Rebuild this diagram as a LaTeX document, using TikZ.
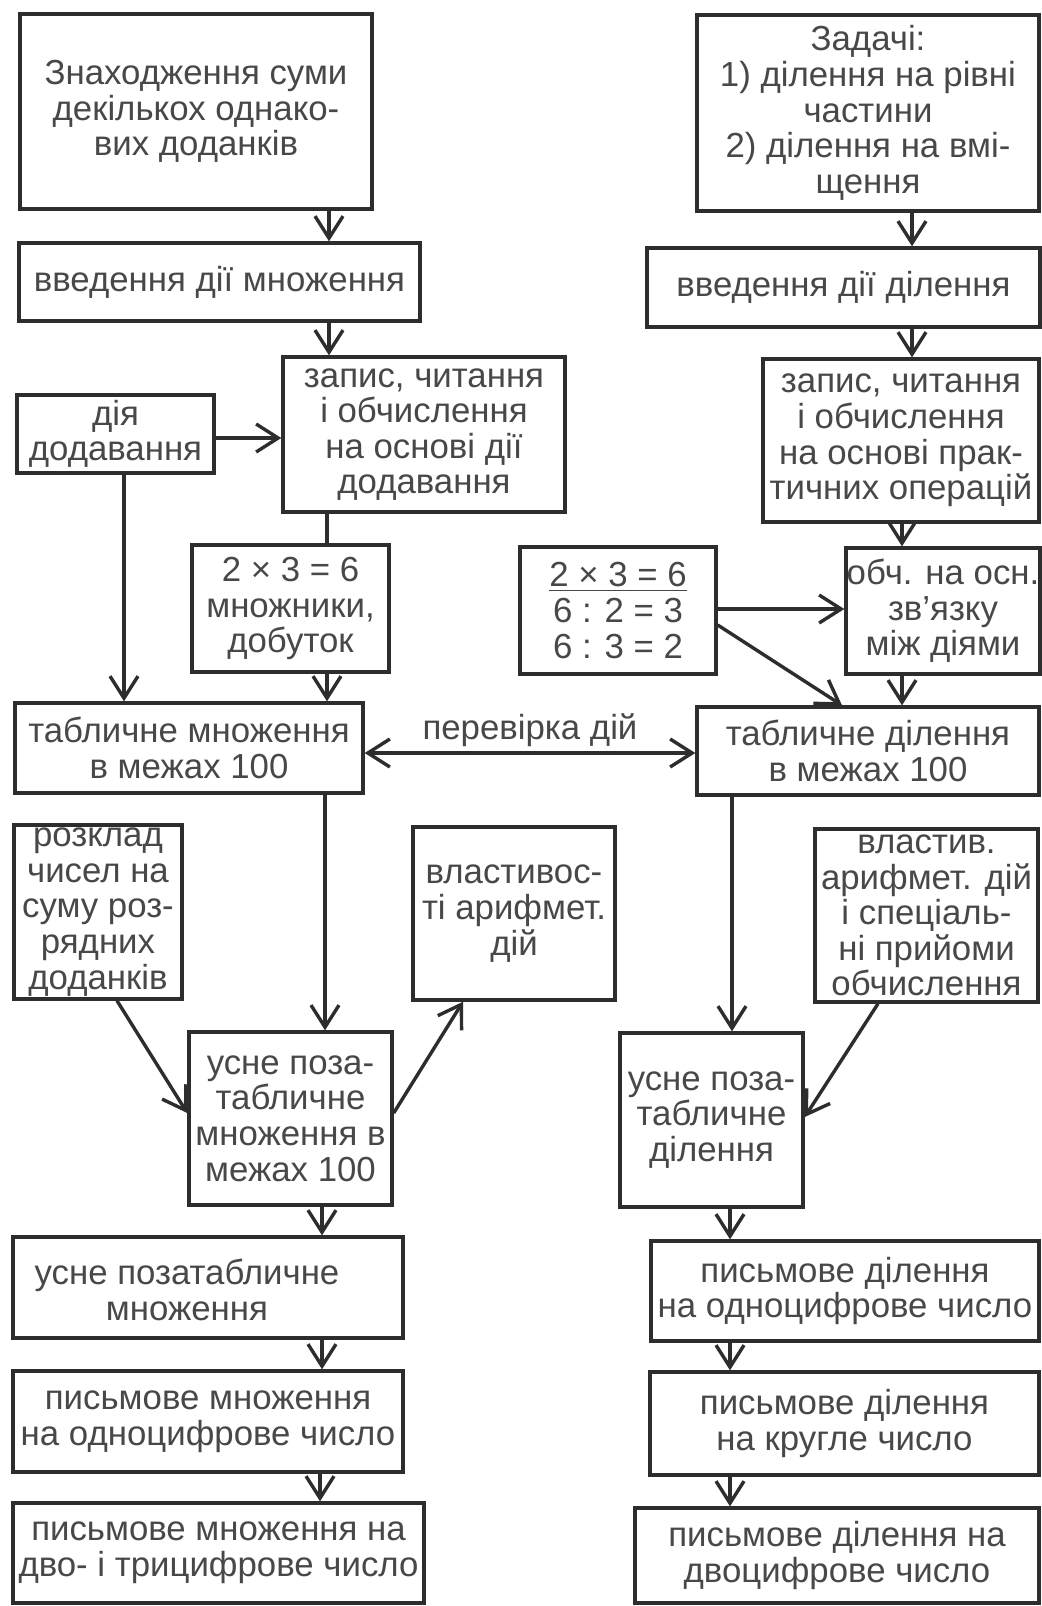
\documentclass[tikz,border=0pt]{standalone}
\usepackage{fontspec}
\setmainfont{Liberation Sans}
\usetikzlibrary{arrows.meta}
\definecolor{ink}{RGB}{45,45,45}
\definecolor{txt}{RGB}{72,72,72}
% framed box given by its corners (x1,y1)-(x2,y2) in picture units of 0.5pt
\newcommand\flowbox[6]{%
  \pgfmathsetmacro\fbw{(#4-#2)*0.5}%
  \pgfmathsetmacro\fbh{(#5-#3)*0.5}%
  \node[box, minimum width=\fbw pt, minimum height=\fbh pt] (#1)
    at ({(#2+#4)/2},{(#3+#5)/2}) {#6};}
\begin{document}
\begin{tikzpicture}[x=0.5pt,y=-0.5pt,
  box/.style={draw=ink, line width=1.7pt, inner sep=0pt, text=txt, align=center,
    font=\fontsize{17.4}{17.8}\selectfont},
  lbl/.style={text=txt, align=center, inner sep=0pt, font=\fontsize{17.4}{17.8}\selectfont},
  ln/.style={draw=ink, line width=1.7pt},
  arr/.style={ln, -{Straight Barb[length=11pt,width=14pt]}},
  darr/.style={ln, {Straight Barb[length=11pt,width=14pt]}-{Straight Barb[length=11pt,width=14pt]}}]
\useasboundingbox[fill=white] (0,0) rectangle (1042,1606);

% multiplication column
\flowbox{sum}{20}{14}{372}{209}{Знаходження суми\\декількох однако-\\вих доданків}
\flowbox{intro}{19}{243}{420}{321}{введення дії множення}
\flowbox{dia}{17}{395}{214}{473}{дія\\додавання}
\flowbox{zapL}{283}{357}{565}{512}{запис, читання\\і обчислення\\на основі дії\\додавання}
\flowbox{exL}{192}{545}{389}{672}{2 × 3 = 6\\множники,\\добуток}
\flowbox{tabM}{15}{703}{363}{793}{табличне множення\\в межах 100}
\flowbox{razk}{14}{825}{182}{999}{розклад\\чисел на\\суму роз-\\рядних\\доданків}
\flowbox{vlast}{413}{827}{615}{1000}{властивос-\\ті арифмет.\\дій}
\flowbox{usneM}{189}{1032}{392}{1205}{усне поза-\\табличне\\множення в\\межах 100}
\flowbox{usneP}{13}{1237}{403}{1338}{}
\node[lbl] (usnePt) at (187,1290) {усне позатабличне\\множення};
\flowbox{pysM}{13}{1371}{403}{1472}{письмове множення\\на одноцифрове число}
\flowbox{pysM2}{13}{1503}{424}{1603}{письмове множення на\\дво- і трицифрове число}

% division column
\flowbox{zad}{697}{15}{1039}{211}{Задачі:\\1) ділення на рівні\\частини\\2) ділення на вмі-\\щення}
\flowbox{introD}{647}{248}{1040}{327}{введення дії ділення}
\flowbox{zapR}{763}{359}{1039}{522}{запис, читання\\і обчислення\\на основі прак-\\тичних операцій}
\flowbox{exR}{520}{547}{716}{674}{\underline{2 × 3 = 6}\\6 : 2 = 3\\6 : 3 = 2}
\flowbox{obch}{846}{548}{1040}{674}{обч. на осн.\\зв'язку\\між діями}
\flowbox{tabD}{697}{707}{1039}{795}{табличне ділення\\в межах 100}
\flowbox{vlastD}{815}{829}{1038}{1002}{властив.\\арифмет. дій\\і спеціаль-\\ні прийоми\\обчислення}
\flowbox{usneD}{620}{1033}{803}{1207}{усне поза-\\табличне\\ділення}
\flowbox{pysD1}{651}{1241}{1039}{1341}{письмове ділення\\на одноцифрове число}
\flowbox{pysD2}{650}{1372}{1039}{1475}{письмове ділення\\на кругле число}
\flowbox{pysD3}{635}{1508}{1039}{1603}{письмове ділення на\\двоцифрове число}

% guide positions for the connectors
\coordinate (xa) at (329,0);
\coordinate (xb) at (327,0);
\coordinate (xc) at (325,0);
\coordinate (xd) at (124,0);
\coordinate (xe) at (322,0);
\coordinate (xf) at (320,0);
\coordinate (xg) at (117,0);
\coordinate (xh) at (463,0);
\coordinate (xi) at (912,0);
\coordinate (xj) at (902,0);
\coordinate (xk) at (842,0);
\coordinate (xl) at (732,0);
\coordinate (xm) at (878,0);
\coordinate (xn) at (730,0);
\coordinate (ya) at (0,438);
\coordinate (yb) at (0,753);
\coordinate (yc) at (0,1113);
\coordinate (yd) at (0,609);
\coordinate (ye) at (0,625);
\coordinate (yf) at (0,1117);

% multiplication connectors
\draw[arr] (sum.south -| xa) -- (intro.north -| xa);
\draw[arr] (intro.south -| xa) -- (zapL.north -| xa);
\draw[arr] (dia.east |- ya) -- (zapL.west |- ya);
\draw[arr] (dia.south -| xd) -- (tabM.north -| xd);
\draw[ln] (zapL.south -| xb) -- (exL.north -| xb);
\draw[arr] (exL.south -| xb) -- (tabM.north -| xb);
\draw[darr] (tabM.east |- yb) -- (tabD.west |- yb)
  node[lbl, midway, yshift=11.5pt] (chk) {перевірка дій};
\draw[arr] (tabM.south -| xc) -- (usneM.north -| xc);
\draw[arr] (razk.south -| xg) -- (usneM.west |- yc);
\draw[arr] (usneM.east |- yc) -- (vlast.south -| xh);
\draw[arr] (usneM.south -| xe) -- (usneP.north -| xe);
\draw[arr] (usneP.south -| xe) -- (pysM.north -| xe);
\draw[arr] (pysM.south -| xf) -- (pysM2.north -| xf);

% division connectors
\draw[arr] (zad.south -| xi) -- (introD.north -| xi);
\draw[arr] (introD.south -| xi) -- (zapR.north -| xi);
\draw[arr] (zapR.south -| xj) -- (obch.north -| xj);
\draw[arr] (exR.east |- yd) -- (obch.west |- yd);
\draw[arr] (exR.east |- ye) -- (tabD.north -| xk);
\draw[arr] (obch.south -| xj) -- (tabD.north -| xj);
\draw[arr] (tabD.south -| xl) -- (usneD.north -| xl);
\draw[arr] (vlastD.south -| xm) -- (usneD.east |- yf);
\draw[arr] (usneD.south -| xn) -- (pysD1.north -| xn);
\draw[arr] (pysD1.south -| xn) -- (pysD2.north -| xn);
\draw[arr] (pysD2.south -| xn) -- (pysD3.north -| xn);
\end{tikzpicture}
\end{document}
